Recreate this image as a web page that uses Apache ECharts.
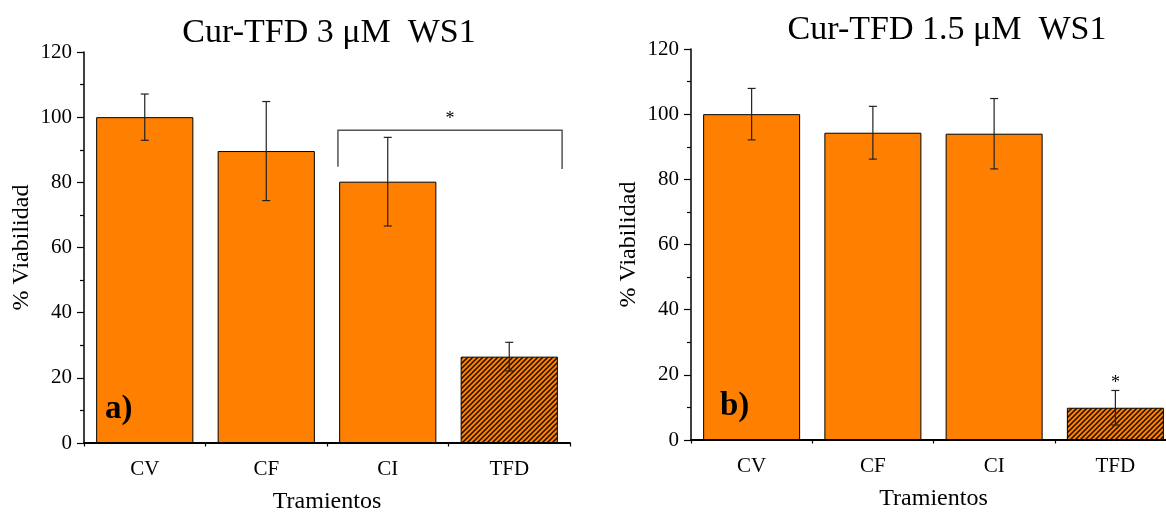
<!DOCTYPE html>
<html><head><meta charset="utf-8">
<script src="https://cdn.jsdelivr.net/npm/echarts@6/dist/echarts.min.js"></script>
<style>html,body{margin:0;padding:0;background:#fff}#c{width:1166px;height:512px}</style>
</head><body><div id="c"></div>
<script>
// ---- data ----
const categories = ['CV', 'CF', 'CI', 'TFD'];
const titles = ['Cur-TFD 3 \u03bcM  WS1', 'Cur-TFD 1.5 \u03bcM  WS1'];
const valuesA = [100, 89.6, 80.2, 26.5];
const errorsA = [7.1, 15.2, 13.6, 4.4];
const valuesB = [100, 94.3, 94.0, 9.9];
const errorsB = [7.9, 8.1, 10.8, 5.3];
const yMin = 0, yMax = 120, yInterval = 20;
const bracketCatsA = ['CI', 'TFD'];
const bracketLevelsA = [84.8, 96.0, 84.1];
const starCatsB = ['TFD'];
const hatchedCats = ['TFD'];
const panelLabels = ['a)', 'b)'];
const xName = 'Tramientos', yName = '% Viabilidad';

// ---- styling ----
const FONT = 'Liberation Serif';
const ORANGE = '#FF8000';

function hatch() {
  const n = 5, c = document.createElement('canvas');
  c.width = n; c.height = n;
  const g = c.getContext('2d');
  g.fillStyle = ORANGE; g.fillRect(0, 0, n, n);
  g.strokeStyle = '#1a0d00'; g.lineWidth = 1.5;
  g.beginPath();
  g.moveTo(-1, n + 1); g.lineTo(n + 1, -1);
  g.moveTo(-1, 1); g.lineTo(1, -1);
  g.moveTo(n - 1, n + 1); g.lineTo(n + 1, n - 1);
  g.stroke();
  return c;
}
const hatchPattern = { image: hatch(), repeat: 'repeat' };

function barData(vals) {
  return vals.map((v, i) => ({
    value: v,
    itemStyle: hatchedCats.includes(categories[i]) ? { color: hatchPattern } : {}
  }));
}
function errData(vals, errs) {
  return vals.map((v, i) => [i, v - errs[i], v + errs[i]]);
}
function renderErr(params, api) {
  const i = api.value(0);
  const lo = api.coord([i, api.value(1)]);
  const hi = api.coord([i, api.value(2)]);
  const w = 4;
  const st = { stroke: '#222', lineWidth: 1.2 };
  return { type: 'group', children: [
    { type: 'line', shape: { x1: hi[0], y1: hi[1], x2: lo[0], y2: lo[1] }, style: st },
    { type: 'line', shape: { x1: hi[0] - w, y1: hi[1], x2: hi[0] + w, y2: hi[1] }, style: st },
    { type: 'line', shape: { x1: lo[0] - w, y1: lo[1], x2: lo[0] + w, y2: lo[1] }, style: st }
  ]};
}

const grids = [
  { left: 84, top: 52, width: 486, height: 391, outerBoundsMode: 'none', containLabel: false },
  { left: 691, top: 49, width: 485, height: 391, outerBoundsMode: 'none', containLabel: false }
];

const xAxes = [], yAxes = [];
grids.forEach((g, k) => {
  xAxes.push({
    type: 'category', gridIndex: k, data: categories,
    name: xName, nameLocation: 'middle', nameGap: 47,
    nameTextStyle: { fontFamily: FONT, fontSize: 24, color: '#000' },
    axisLine: { lineStyle: { color: '#000', width: 2 } },
    axisTick: { alignWithLabel: true, length: 7, lineStyle: { color: '#000', width: 1.5 } },
    axisLabel: { fontFamily: FONT, fontSize: 21, color: '#000', margin: 16 }
  });
  xAxes.push({
    type: 'category', gridIndex: k, data: categories, position: 'bottom',
    axisLine: { show: false },
    axisTick: { show: true, length: 3.5, lineStyle: { color: '#000', width: 1.2 } },
    axisLabel: { show: false }
  });
  yAxes.push({
    type: 'value', gridIndex: k, min: yMin, max: yMax, interval: yInterval,
    name: yName, nameLocation: 'middle', nameGap: 50,
    nameTextStyle: { fontFamily: FONT, fontSize: 24, color: '#000' },
    axisLine: { show: true, lineStyle: { color: '#000', width: 1.5 } },
    axisTick: { show: true, length: 7, lineStyle: { color: '#000', width: 1.2 } },
    minorTick: { show: true, splitNumber: 2, length: 4, lineStyle: { color: '#000', width: 1.2 } },
    splitLine: { show: false },
    axisLabel: { fontFamily: FONT, fontSize: 21, color: '#000', margin: 12 }
  });
});

const barBase = {
  type: 'bar', barWidth: '80%',
  itemStyle: { color: ORANGE, borderColor: '#000', borderWidth: 1 }
};

const series = [
  Object.assign({}, barBase, { xAxisIndex: 0, yAxisIndex: 0, data: barData(valuesA) }),
  { type: 'custom', xAxisIndex: 0, yAxisIndex: 0, z: 5, data: errData(valuesA, errorsA), renderItem: renderErr },
  { type: 'custom', xAxisIndex: 0, yAxisIndex: 0, z: 5,
    data: [[categories.indexOf(bracketCatsA[0]), bracketLevelsA[1]]],
    renderItem: function (params, api) {
      const i0 = categories.indexOf(bracketCatsA[0]), i1 = categories.indexOf(bracketCatsA[1]);
      const band = api.size([1, 0])[0];
      const xl = api.coord([i0, 0])[0] - 0.41 * band;
      const xr = api.coord([i1, 0])[0] + 0.435 * band;
      const yl = api.coord([i0, bracketLevelsA[0]])[1];
      const yt = api.coord([i0, bracketLevelsA[1]])[1];
      const yr = api.coord([i1, bracketLevelsA[2]])[1];
      return { type: 'group', children: [
        { type: 'polyline', shape: { points: [[xl, yl], [xl, yt], [xr, yt], [xr, yr]] },
          style: { stroke: '#555', lineWidth: 1.5, fill: null } },
        { type: 'text', x: (xl + xr) / 2, y: yt - 2,
          style: { text: '*', font: '18px "Liberation Serif"', fill: '#000', align: 'center', verticalAlign: 'bottom' } }
      ]};
    } },
  Object.assign({}, barBase, { xAxisIndex: 2, yAxisIndex: 1, data: barData(valuesB) }),
  { type: 'custom', xAxisIndex: 2, yAxisIndex: 1, z: 5, data: errData(valuesB, errorsB), renderItem: renderErr },
  { type: 'custom', xAxisIndex: 2, yAxisIndex: 1, z: 5,
    data: starCatsB.map(c => { const i = categories.indexOf(c); return [i, valuesB[i] + errorsB[i]]; }),
    renderItem: function (params, api) {
      const p = api.coord([api.value(0), api.value(1)]);
      return { type: 'text', x: p[0], y: p[1] + 2,
        style: { text: '*', font: '18px "Liberation Serif"', fill: '#000', align: 'center', verticalAlign: 'bottom' } };
    } }
];

const chart = echarts.init(document.getElementById('c'), null, { renderer: 'canvas' });
chart.setOption({
  animation: false,
  backgroundColor: '#fff',
  title: [
    { text: titles[0], left: 324, top: 11, textAlign: 'center', textStyle: { fontFamily: FONT, fontSize: 34, fontWeight: 'normal', color: '#000' } },
    { text: titles[1], left: 942, top: 8, textAlign: 'center', textStyle: { fontFamily: FONT, fontSize: 34, fontWeight: 'normal', color: '#000' } }
  ],
  grid: grids,
  xAxis: xAxes,
  yAxis: yAxes,
  series: series,
  graphic: [
    { type: 'text', left: 105, top: 393, z: 10, style: { text: panelLabels[0], font: 'bold 33px "Liberation Serif"', fill: '#000' } },
    { type: 'text', left: 720, top: 390, z: 10, style: { text: panelLabels[1], font: 'bold 33px "Liberation Serif"', fill: '#000' } }
  ]
});
</script>
</body></html>
